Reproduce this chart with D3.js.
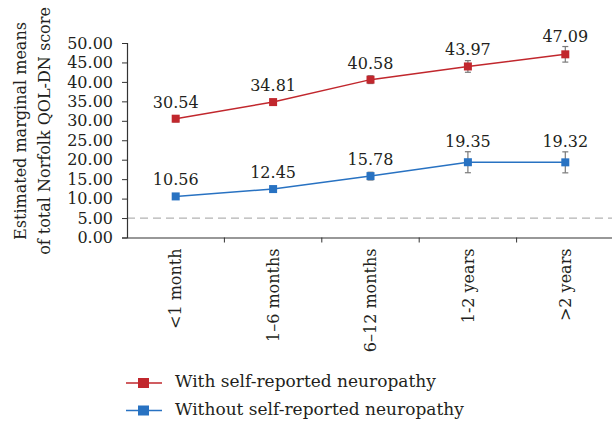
<!DOCTYPE html>
<html>
<head>
<meta charset="utf-8">
<script src="https://cdn.jsdelivr.net/npm/d3@7"></script>
<style>
  html, body { margin: 0; padding: 0; background: #fff; }
  svg { display: block; }
  svg text { font-family: "DejaVu Serif", "Liberation Serif", serif; fill: #231f20; }
</style>
</head>
<body>
<svg id="chart" width="612" height="421"></svg>
<script>
// Time since diagnosis groups
const categories = ["<1 month", "1\u20136 months", "6\u201312 months", "1-2 years", ">2 years"];
// Estimated marginal means, with self-reported neuropathy
const withValues = [30.54, 34.81, 40.58, 43.97, 47.09];
const withErrors = [0.8, 0.5, 1.0, 1.5, 2.0];
// Estimated marginal means, without self-reported neuropathy
const withoutValues = [10.56, 12.45, 15.78, 19.35, 19.32];
const withoutErrors = [0.6, 0.5, 1.0, 2.7, 2.7];
const yTicks = [0, 5, 10, 15, 20, 25, 30, 35, 40, 45, 50];
const referenceLine = 5;
const seriesNames = ["With self-reported neuropathy", "Without self-reported neuropathy"];

const series = [
  { name: seriesNames[0], values: withValues, errors: withErrors, color: "#c1272d" },
  { name: seriesNames[1], values: withoutValues, errors: withoutErrors, color: "#2872c2" }
];

const svg = d3.select("#chart");
const plotLeft = 127, plotRight = 614, plotTop = 43, plotBottom = 237.5;
const serif = "DejaVu Serif, Liberation Serif, serif";

const x = d3.scaleBand().domain(categories).range([plotLeft, plotRight]);
const y = d3.scaleLinear().domain([0, 50]).range([plotBottom, plotTop]);

// Dashed reference line
svg.append("line")
  .attr("x1", plotLeft).attr("x2", 612)
  .attr("y1", y(referenceLine)).attr("y2", y(referenceLine))
  .attr("stroke", "#b3b3b3").attr("stroke-width", 1.3)
  .attr("stroke-dasharray", "8,5");

// Y axis
const yAxis = svg.append("g")
  .attr("transform", `translate(${plotLeft},0)`)
  .call(d3.axisLeft(y).tickValues(yTicks).tickFormat(d3.format(".2f")).tickSizeOuter(0).tickSize(5).tickPadding(9));
yAxis.attr("font-family", serif);
yAxis.select(".domain").attr("stroke", "#333").attr("stroke-width", 1.2);
yAxis.selectAll(".tick line").attr("stroke", "#333");
yAxis.selectAll(".tick text").attr("font-size", 16).attr("fill", "#231f20");

// X axis
const xAxis = svg.append("g")
  .attr("transform", `translate(0,${plotBottom})`)
  .call(d3.axisBottom(x).tickSize(0).tickSizeOuter(0));
xAxis.attr("font-family", serif);
xAxis.select(".domain").attr("stroke", "#333").attr("stroke-width", 1.2);
xAxis.selectAll(".tick text")
  .attr("font-size", 16).attr("fill", "#231f20")
  .attr("transform", "rotate(-90)")
  .attr("text-anchor", "end")
  .attr("x", -11).attr("y", 0).attr("dy", "0.35em");
// Tick marks at band boundaries
xAxis.selectAll(".boundary")
  .data(categories.slice(1))
  .enter().append("line")
  .attr("x1", d => x(d)).attr("x2", d => x(d))
  .attr("y1", 0).attr("y2", 5)
  .attr("stroke", "#333");

// Y axis title
const title = svg.append("text")
  .attr("transform", `translate(0,131) rotate(-90)`)
  .attr("text-anchor", "middle")
  .attr("font-size", 16);
title.append("tspan").attr("x", 0).attr("y", 26).text("Estimated marginal means");
title.append("tspan").attr("x", 0).attr("y", 50).text("of total Norfolk QOL-DN score");

const cx = d => x(d) + x.bandwidth() / 2;
const line = d3.line().x((v, i) => cx(categories[i])).y(v => y(v));

series.forEach(s => {
  const g = svg.append("g");
  g.append("path").datum(s.values)
    .attr("d", line).attr("fill", "none")
    .attr("stroke", s.color).attr("stroke-width", 1.5);

  // Error bars
  s.values.forEach((v, i) => {
    const px = cx(categories[i]);
    const e = s.errors[i];
    g.append("line").attr("x1", px).attr("x2", px)
      .attr("y1", y(v + e)).attr("y2", y(v - e))
      .attr("stroke", "#7a7a7a").attr("stroke-width", 1.2);
    [v + e, v - e].forEach(w => {
      g.append("line").attr("x1", px - 3).attr("x2", px + 3)
        .attr("y1", y(w)).attr("y2", y(w))
        .attr("stroke", "#7a7a7a").attr("stroke-width", 1.2);
    });
  });

  g.selectAll("rect").data(s.values).enter().append("rect")
    .attr("x", (v, i) => cx(categories[i]) - 4)
    .attr("y", v => y(v) - 4)
    .attr("width", 8).attr("height", 8)
    .attr("fill", s.color);

  g.selectAll("text.value").data(s.values).enter().append("text")
    .attr("class", "value")
    .attr("x", (v, i) => cx(categories[i]))
    .attr("y", (v, i) => Math.min(y(v) - 11, y(v + s.errors[i]) - 5))
    .attr("text-anchor", "middle")
    .attr("font-size", 16)
    .text(v => v.toFixed(2));
});

// Legend
const legend = svg.append("g");
series.forEach((s, i) => {
  const ly = 383 + i * 27.5;
  legend.append("line").attr("x1", 126).attr("x2", 162)
    .attr("y1", ly).attr("y2", ly)
    .attr("stroke", s.color).attr("stroke-width", 1.5);
  legend.append("rect").attr("x", 138).attr("y", ly - 5)
    .attr("width", 11).attr("height", 10).attr("fill", s.color);
  legend.append("text").attr("x", 175).attr("y", ly + 4)
    .attr("font-size", 17)
    .text(s.name);
});
</script>
</body>
</html>
